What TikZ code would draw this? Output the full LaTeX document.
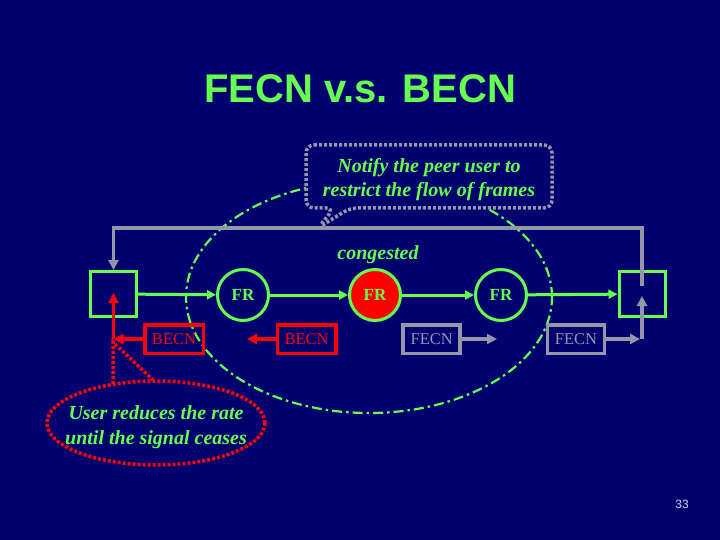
\documentclass[tikz,border=0pt]{standalone}
\usepackage{fontspec}
\setmainfont{Liberation Serif}
\newfontfamily\arialf{Liberation Sans}
\usetikzlibrary{arrows.meta}
\definecolor{bgc}{RGB}{0,0,110}
\definecolor{grn}{RGB}{102,255,80}
\definecolor{gry}{RGB}{150,150,170}
\definecolor{rd}{RGB}{255,0,0}
\definecolor{pgn}{RGB}{190,215,240}
\begin{document}
\begin{tikzpicture}[x=1pt,y=-1pt,
  greenbox/.style={draw=grn, line width=3pt, minimum width=46pt, minimum height=45pt, inner sep=0pt},
  frnode/.style={circle, draw=grn, line width=3pt, minimum size=51pt, inner sep=0pt, text=grn, font=\fontsize{17}{20}\selectfont\bfseries},
  becnbox/.style={draw=rd, line width=3.5pt, minimum width=58.5pt, minimum height=28.5pt, inner sep=0pt, text=rd, font=\fontsize{16.5}{18}\selectfont},
  fecnbox/.style={draw=gry, line width=3.5pt, minimum width=57pt, minimum height=28.5pt, inner sep=0pt, text=gry, font=\fontsize{16.5}{18}\selectfont},
  garrow/.style={draw=grn, line width=3pt, -{Triangle[length=9pt,width=9pt]}},
  rarrow/.style={draw=rd, line width=3.5pt, -{Triangle[length=10pt,width=10pt]}},
  gyarrow/.style={draw=gry, line width=3.5pt, -{Triangle[length=10pt,width=10pt]}},
  notetext/.style={text=grn, font=\fontsize{20}{24}\selectfont\bfseries\itshape, align=center},
  graydots/.style={draw=gry, line width=3.5pt, dash pattern=on 3pt off 2pt},
  reddots/.style={draw=rd, line width=3.5pt, dash pattern=on 3pt off 2pt},
  dashdot/.style={draw=grn, line width=2.2pt, dash pattern=on 10pt off 4pt on 2.5pt off 4pt}
]
\useasboundingbox (0,0) rectangle (720,540);
\fill[bgc] (0,0) rectangle (720,540);

% title
\node[anchor=base, text=grn, font=\arialf\bfseries\fontsize{40}{48}\selectfont] (title) at (360,103) {FECN v.s. BECN};

% big dash-dot ellipse
\draw[dashdot] (369,297) ellipse [x radius=183pt, y radius=116pt];

% callout (notify)
\path[graydots, fill=bgc, rounded corners=8pt] (306,145) -- (552,145) -- (552,208) -- (350,208) -- (318,228) -- (334,208) -- (306,208) -- cycle;
\node[notetext] (notify) at (429,180) {Notify the peer user to\\restrict the flow of frames};

% nodes
\node[greenbox] (lb) at (113.5,294) {};
\node[greenbox] (rb) at (642,294) {};
\node[frnode] (fr1) at (243,295) {FR};
\node[frnode, fill=rd] (fr2) at (375,295) {FR};
\node[frnode] (fr3) at (501,295) {FR};
\node[text=grn, font=\fontsize{20}{24}\selectfont\bfseries\itshape] (cong) at (378,255) {congested};

\node[becnbox] (becn1) at (174,339) {BECN};
\node[becnbox] (becn2) at (306.5,339) {BECN};
\node[fecnbox] (fecn1) at (431.7,339) {FECN};
\node[fecnbox] (fecn2) at (576,339) {FECN};

% coordinates
\coordinate (rbup) at (642,286);
\coordinate (topR) at (642,228);
\coordinate (rc) at (113.5,339);
\coordinate (lbin) at (113.5,293);
\coordinate (b2t) at (247,339);
\coordinate (f1t) at (497,339);
\coordinate (gc) at (642,339);
\coordinate (gcend) at (640,339);
\coordinate (rbin) at (642,296);

% gray top loop
\draw[gyarrow] (rbup) -- (topR) -| (lb.north);

% green data path
\draw[garrow] (lb) -- (fr1);
\draw[garrow] (fr1) -- (fr2);
\draw[garrow] (fr2) -- (fr3);
\draw[garrow] (fr3) -- (rb);

% BECN arrows
\draw[rarrow] (becn1) -- (rc);
\draw[rarrow] (rc) -- (lbin);
\draw[rarrow] (becn2) -- (b2t);

% FECN arrows
\draw[gyarrow] (fecn1) -- (f1t);
\draw[gyarrow] (fecn2) -- (gcend);
\draw[gyarrow] (gc) -- (rbin);

% red callout
\draw[reddots] (156,423) ellipse [x radius=109pt, y radius=42pt];
\draw[reddots] (113,384) -- (113,342) -- (153,380);
\node[notetext, font=\fontsize{20}{25}\selectfont\bfseries\itshape] (user) at (156,427) {User reduces the rate\\until the signal ceases};

% page number
\node[text=pgn, font=\arialf\fontsize{12}{14}\selectfont] (pg) at (682,504) {33};
\end{tikzpicture}
\end{document}
